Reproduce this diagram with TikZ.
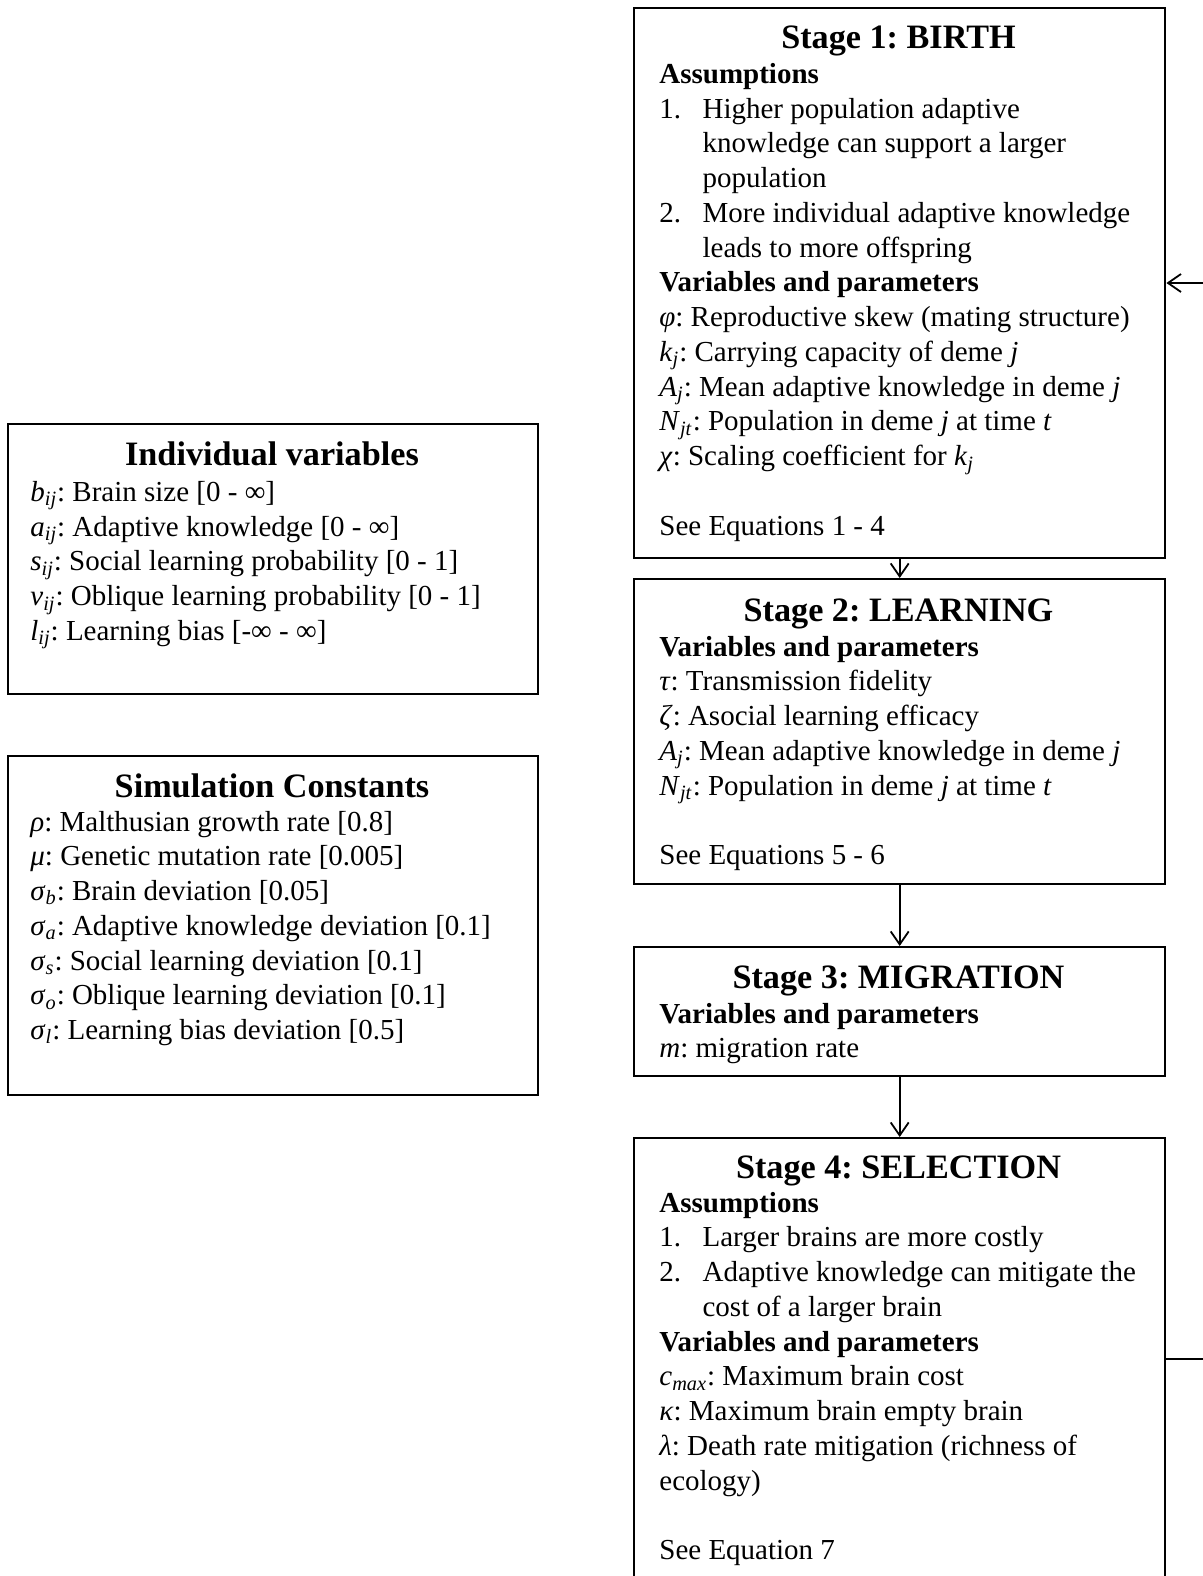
\documentclass[tikz,border=0pt]{standalone}
\usepackage{fontspec}
\setmainfont{Liberation Serif}
\usetikzlibrary{arrows.meta}
\frenchspacing
\newcommand\itm[2]{\makebox[21.6pt][l]{#1}#2}
\newcommand\cnt[1]{\hspace*{21.6pt}#1}
\newcommand\vsub[2]{\textit{#1}\textsubscript{\textit{#2}}}
\tikzset{
 frame/.style={draw, line width=1.2pt, inner sep=0pt, anchor=north west},
 ttl/.style={font=\fontsize{17.1}{20}\selectfont\bfseries\frenchspacing, anchor=base, inner sep=0pt},
 body/.style={font=\fontsize{14.5}{17.375}\selectfont\frenchspacing, align=left, anchor=north west, inner sep=0pt},
 flow/.style={line width=0.9pt, -{Straight Barb[length=6.5pt,width=9pt]}},
 plain/.style={line width=0.9pt},
}
\begin{document}
\begin{tikzpicture}[x=0.5pt,y=-0.5pt]
\useasboundingbox (0,0) rectangle (1203,1576);
\clip (0,0) rectangle (1203,1576);
\fill[white] (0,0) rectangle (1203,1576);
% boxes
\node[frame, minimum width=265pt, minimum height=135pt] (iv) at (7,423) {};
\node[frame, minimum width=265pt, minimum height=169.5pt] (sc) at (7,755) {};
\node[frame, minimum width=265.5pt, minimum height=275pt] (s1) at (633,7) {};
\node[frame, minimum width=265.5pt, minimum height=152.5pt] (s2) at (633,578) {};
\node[frame, minimum width=265.5pt, minimum height=64.5pt] (s3) at (633,946) {};
\node[frame, minimum width=265.5pt, minimum height=235pt] (s4) at (633,1137) {};
% titles
\node[ttl] (ivt) at (272,465) {Individual variables};
\node[ttl] (sct) at (272,797) {Simulation Constants};
\node[ttl] (s1t) at (898.5,48) {Stage 1: BIRTH};
\node[ttl] (s2t) at (898.5,621) {Stage 2: LEARNING};
\node[ttl] (s3t) at (898.5,988) {Stage 3: MIGRATION};
\node[ttl] (s4t) at (898.5,1178) {Stage 4: SELECTION};
% bodies
\node[body] (ivb) at (30,476.7) {\strut\vsub{b}{ij}: Brain size [0 - ∞]\\
\vsub{a}{ij}: Adaptive knowledge [0 - ∞]\\
\vsub{s}{ij}: Social learning probability [0 - 1]\\
\vsub{v}{ij}: Oblique learning probability [0 - 1]\\
\vsub{l}{ij}: Learning bias [-∞ - ∞]};
\node[body] (scb) at (30,806.4) {\strut\textit{ρ}: Malthusian growth rate [0.8]\\
\textit{μ}: Genetic mutation rate [0.005]\\
\vsub{σ}{b}: Brain deviation [0.05]\\
\vsub{σ}{a}: Adaptive knowledge deviation [0.1]\\
\vsub{σ}{s}: Social learning deviation [0.1]\\
\vsub{σ}{o}: Oblique learning deviation [0.1]\\
\vsub{σ}{l}: Learning bias deviation [0.5]};
\node[body] (s1b) at (659,58.7) {\strut\textbf{Assumptions}\\
\itm{1.}{Higher population adaptive}\\
\cnt{knowledge can support a larger}\\
\cnt{population}\\
\itm{2.}{More individual adaptive knowledge}\\
\cnt{leads to more offspring}\\
\textbf{Variables and parameters}\\
\textit{φ}: Reproductive skew (mating structure)\\
\vsub{k}{j}: Carrying capacity of deme \textit{j}\\
\vsub{A}{j}: Mean adaptive knowledge in deme \textit{j}\\
\vsub{N}{jt}: Population in deme \textit{j} at time \textit{t}\\
\textit{χ}: Scaling coefficient for \vsub{k}{j}\\
\strut\\
See Equations 1 - 4};
\node[body] (s2b) at (659,631.5) {\strut\textbf{Variables and parameters}\\
\textit{τ}: Transmission fidelity\\
\textit{ζ}: Asocial learning efficacy\\
\vsub{A}{j}: Mean adaptive knowledge in deme \textit{j}\\
\vsub{N}{jt}: Population in deme \textit{j} at time \textit{t}\\
\strut\\
See Equations 5 - 6};
\node[body] (s3b) at (659,998.3) {\strut\textbf{Variables and parameters}\\
\textit{m}: migration rate};
\node[body] (s4b) at (659,1187.3) {\strut\textbf{Assumptions}\\
\itm{1.}{Larger brains are more costly}\\
\itm{2.}{Adaptive knowledge can mitigate the}\\
\cnt{cost of a larger brain}\\
\textbf{Variables and parameters}\\
\vsub{c}{max}: Maximum brain cost\\
\textit{κ}: Maximum brain empty brain\\
\textit{λ}: Death rate mitigation (richness of\\
ecology)\\
\strut\\
See Equation 7};
% connectors
\draw[flow] (s1.south) -- (s2.north);
\draw[flow] (s2.south) -- (s3.north);
\draw[flow] (s3.south) -- (s4.north);
\coordinate (loopout) at (1203,1359);
\coordinate (loopin) at (1203,283);
\draw[plain] (s4.east |- loopout) -- (loopout);
\draw[flow] (loopin) -- (s1.east |- loopin);
\end{tikzpicture}
\end{document}
